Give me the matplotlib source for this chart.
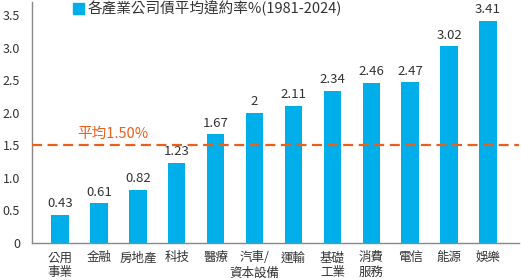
import matplotlib
matplotlib.use("Agg")
import matplotlib.pyplot as plt
from matplotlib.patches import Patch

plt.rcParams['font.family'] = ['Noto Sans CJK TC', 'DejaVu Sans']

categories = ["公用\n事業", "金融", "房地產", "科技", "醫療", "汽車/\n資本設備", "運輸",
              "基礎\n工業", "消費\n服務", "電信", "能源", "娛樂"]
values = [0.43, 0.61, 0.82, 1.23, 1.67, 2, 2.11, 2.34, 2.46, 2.47, 3.02, 3.41]
value_labels = ["0.43", "0.61", "0.82", "1.23", "1.67", "2", "2.11", "2.34", "2.46", "2.47", "3.02", "3.41"]
average = 1.50
avg_label = "平均1.50%"
legend_label = "各產業公司債平均違約率%(1981-2024)"
yticks = [0, 0.5, 1.0, 1.5, 2.0, 2.5, 3.0, 3.5]
ytick_labels = ["0", "0.5", "1.0", "1.5", "2.0", "2.5", "3.0", "3.5"]

bar_color = "#00AEEA"
line_color = "#EB5E1B"
text_color = "#333333"

fig = plt.figure(figsize=(5.21, 2.8), dpi=100)
ax = fig.add_axes([0.0614, 0.132, 0.935, 0.861])

x = list(range(len(categories)))
bars = ax.bar(x, values, width=0.45, color=bar_color, zorder=2)
for xi, v, lab in zip(x, values, value_labels):
    ax.text(xi, v + 0.07, lab, ha="center", va="bottom", fontsize=9.5, color=text_color)

ax.axhline(average, color=line_color, lw=1.6, ls=(0, (4.5, 2.5)), zorder=3)
ax.text(1.35, average + 0.06, avg_label, ha="center", va="bottom", fontsize=10.5,
        color=line_color, fontweight="medium")

ax.set_xlim(-0.72, 11.8)
ax.set_ylim(0, 3.7)
ax.set_xticks(x)
ax.set_xticklabels(categories, fontsize=9, color=text_color, linespacing=1.2)
ax.set_yticks(yticks)
ax.set_yticklabels(ytick_labels, fontsize=9, color=text_color)
ax.tick_params(axis="both", length=0)
ax.tick_params(axis="y", pad=8.5)
ax.tick_params(axis="x", pad=6)
for s in ["top", "right"]:
    ax.spines[s].set_visible(False)
for s in ["left", "bottom"]:
    ax.spines[s].set_color("#888888")
    ax.spines[s].set_linewidth(1)

handle = Patch(color=bar_color)
leg = ax.legend([handle], [legend_label], loc="upper left", bbox_to_anchor=(0.07, 1.035),
                frameon=False, fontsize=10.5, handlelength=0.75, handleheight=0.75,
                handletextpad=0.25, borderpad=0)
for t in leg.get_texts():
    t.set_color(text_color)

fig.savefig("out.png", dpi=100)
